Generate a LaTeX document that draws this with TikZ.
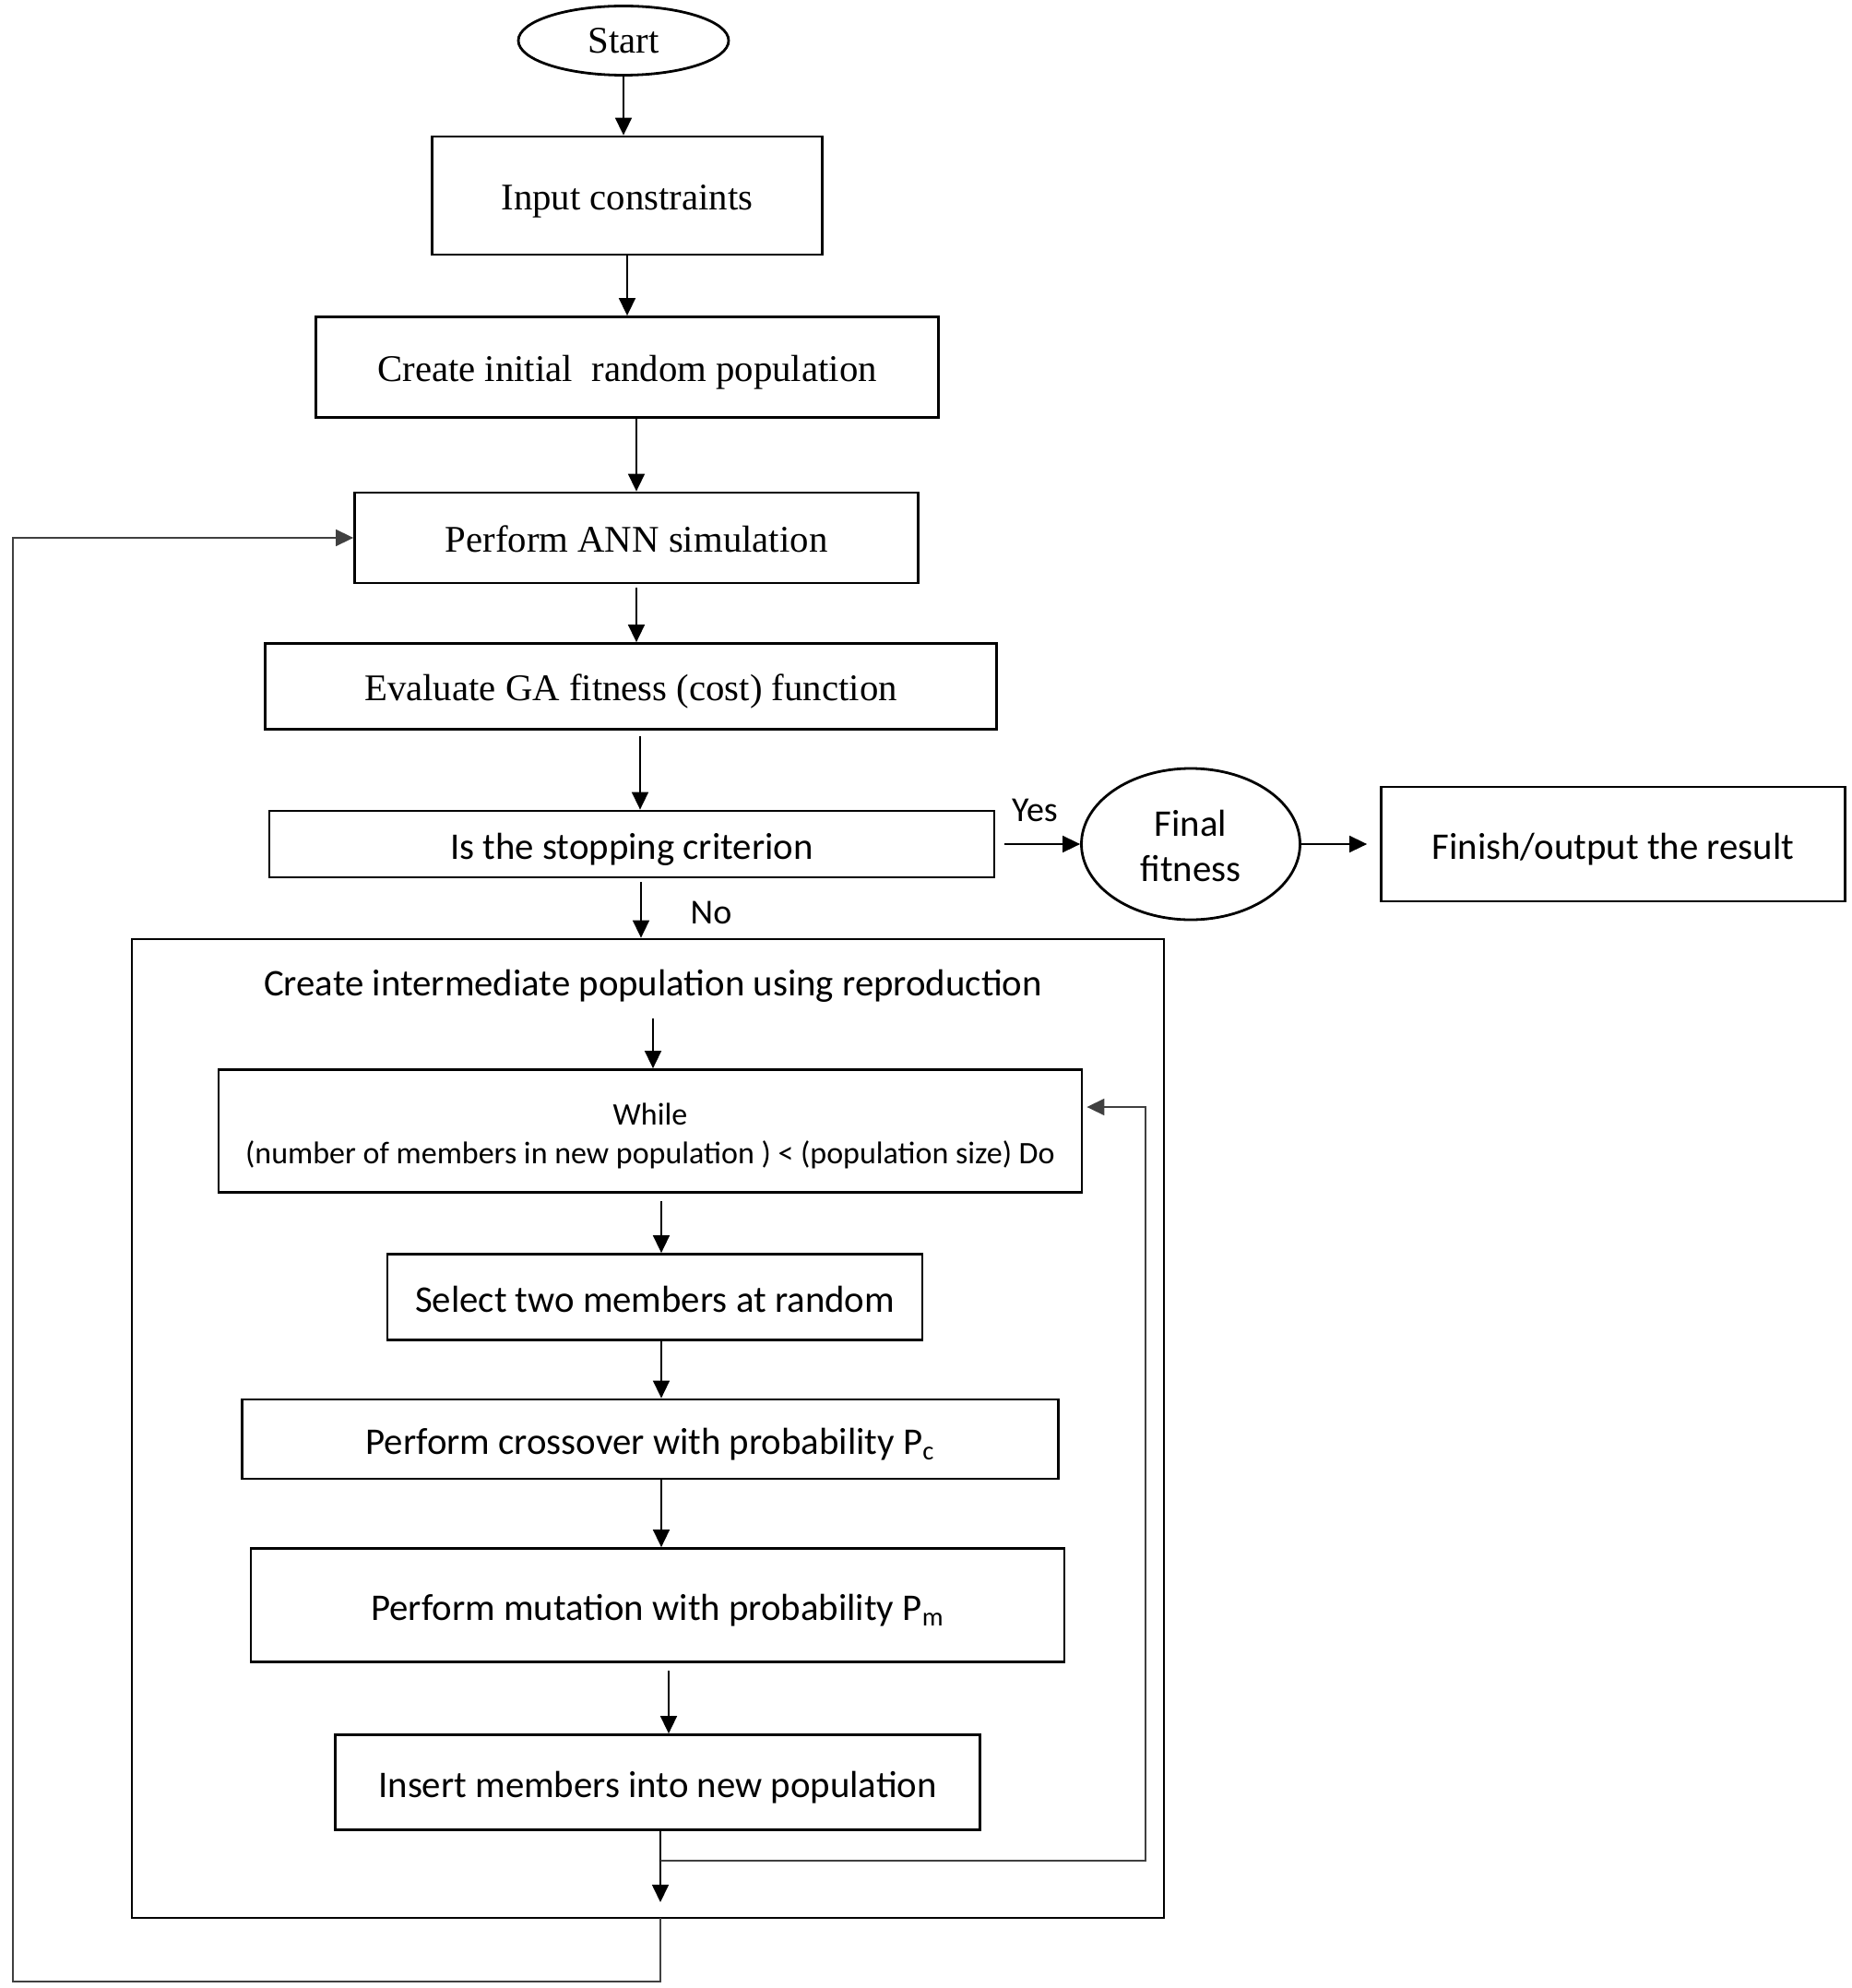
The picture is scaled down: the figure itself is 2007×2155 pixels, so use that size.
\documentclass[tikz,border=0pt]{standalone}
\usepackage{fontspec}
\setmainfont{Liberation Serif}
\newfontfamily\sansf{Carlito}
\usetikzlibrary{arrows.meta,shapes.geometric}
\begin{document}
\begin{tikzpicture}[x=0.5pt,y=-0.5pt,
  box/.style={draw,line width=1.4pt,rectangle,inner sep=0pt,align=center},
  serifbox/.style={box,font=\fontsize{20.4}{24}\selectfont,text height=17.4pt,text depth=2pt},
  sansbox/.style={box,font=\sansf\fontsize{20.4}{24}\selectfont,text height=18.4pt,text depth=2pt},
  tip/.style={-{Triangle[width=9pt,length=9.5pt]}},
  conn/.style={line width=0.8pt,tip},
  loopline/.style={line width=0.8pt,draw=black!75},
  lbl/.style={font=\sansf\fontsize{19}{23}\selectfont,inner sep=0pt}]
\useasboundingbox (0,0) rectangle (2007,2155);
% top part
\node[draw,line width=1.4pt,ellipse,minimum width=114pt,minimum height=37.5pt,inner sep=0pt,font=\fontsize{20.4}{24}\selectfont] (start) at (676,44) {Start};
\node[serifbox,minimum width=211.5pt,minimum height=64pt] (input) at (680,212) {Input constraints};
\node[serifbox,minimum width=337.5pt,minimum height=54.5pt] (create) at (680,398) {Create initial\ \ random population};
\node[serifbox,minimum width=305.5pt,minimum height=49pt] (ann) at (690,583) {Perform ANN simulation};
\node[serifbox,minimum width=396.5pt,minimum height=46.5pt] (eval) at (684,744) {Evaluate GA fitness (cost) function};
\node[sansbox,minimum width=393pt,minimum height=36pt] (stop) at (685,915) {Is the stopping criterion};
\node[draw,line width=1.4pt,ellipse,minimum width=118.5pt,minimum height=82pt,inner sep=0pt,align=center,font=\sansf\fontsize{20.4}{24.5}\selectfont] (final) at (1291,915) {\rule{0pt}{16pt}Final\\fitness};
\node[sansbox,minimum width=251.5pt,minimum height=62pt] (finish) at (1749,915) {Finish/output the result};
% outer box
\node[draw,line width=1.4pt,rectangle,inner sep=0pt,minimum width=559.5pt,minimum height=530.5pt] (outer) at (702.5,1548.5) {};
\node[lbl,font=\sansf\fontsize{20.4}{24}\selectfont,text height=18.4pt,text depth=2pt] (inter) at (708,1063) {Create intermediate population using reproduction};
\node[box,font=\sansf\fontsize{17}{21}\selectfont,minimum width=468pt,minimum height=66.5pt] (while) at (705,1226) {\rule{0pt}{17.5pt}While\\(number of members in new population ) {\textless} (population size) Do};
\node[sansbox,minimum width=290pt,minimum height=46.5pt] (select) at (710,1406) {Select two members at random};
\node[sansbox,minimum width=442.5pt,minimum height=43pt] (cross) at (705,1560) {Perform crossover with probability P\textsubscript{c}};
\node[sansbox,minimum width=441pt,minimum height=61.5pt] (mut) at (713,1740) {Perform mutation with probability P\textsubscript{m}};
\node[sansbox,minimum width=349.5pt,minimum height=51.5pt] (insert) at (713,1932) {Insert members into new population};
% labels
\node[lbl] (yes) at (1122,878) {Yes};
\node[lbl] (no) at (771,989) {No};
% coordinates
\coordinate (j1) at (716,2017);
\coordinate (j1r) at (1242,2017);
\coordinate (j1u) at (1242,1200);
\coordinate (endin) at (716,2062);
\coordinate (ob) at (716,2079);
\coordinate (ob2) at (716,2148);
\coordinate (lb) at (14,2148);
\coordinate (lt) at (14,583);
% connectors
\draw[conn] (start.south) -- (input.north -| start.south);
\draw[conn] (input.south) -- (create.north -| input.south);
\draw[conn] ([xshift=5pt]create.south) -- ([xshift=5pt]create.south |- ann.north);
\draw[conn] ([yshift=-2pt]ann.south) -- (ann.south |- eval.north);
\draw[conn] ([xshift=5pt,yshift=-3pt]eval.south) -- ([xshift=5pt]eval.south |- stop.north);
\draw[conn] ([xshift=5pt,yshift=-2pt]stop.south) -- ([xshift=5pt]stop.south |- outer.north);
\draw[conn] ([xshift=5pt]stop.east) -- (final.west);
\draw[conn] (final.east) -- ([xshift=-7pt]finish.west);
\draw[conn] (inter.south) ++(0,-10pt) -- (inter.south |- while.north);
\draw[conn] ([xshift=6pt,yshift=-4pt]while.south) -- ([xshift=6pt]while.south |- select.north);
\draw[conn] ([xshift=3.5pt]select.south) -- ([xshift=3.5pt]select.south |- cross.north);
\draw[conn] ([xshift=6pt]cross.south) -- ([xshift=6pt]cross.south |- mut.north);
\draw[conn] ([xshift=6pt,yshift=-4pt]mut.south) -- ([xshift=6pt]mut.south |- insert.north);
\draw[conn] (insert.south -| endin) -- (endin);
\draw[loopline,tip] (j1) -- (j1r) -- (j1u) -- ([xshift=2pt]while.east |- j1u);
\draw[loopline,tip] (ob) -- (ob2) -- (lb) -- (lt) -- (ann.west |- lt);
\end{tikzpicture}
\end{document}
